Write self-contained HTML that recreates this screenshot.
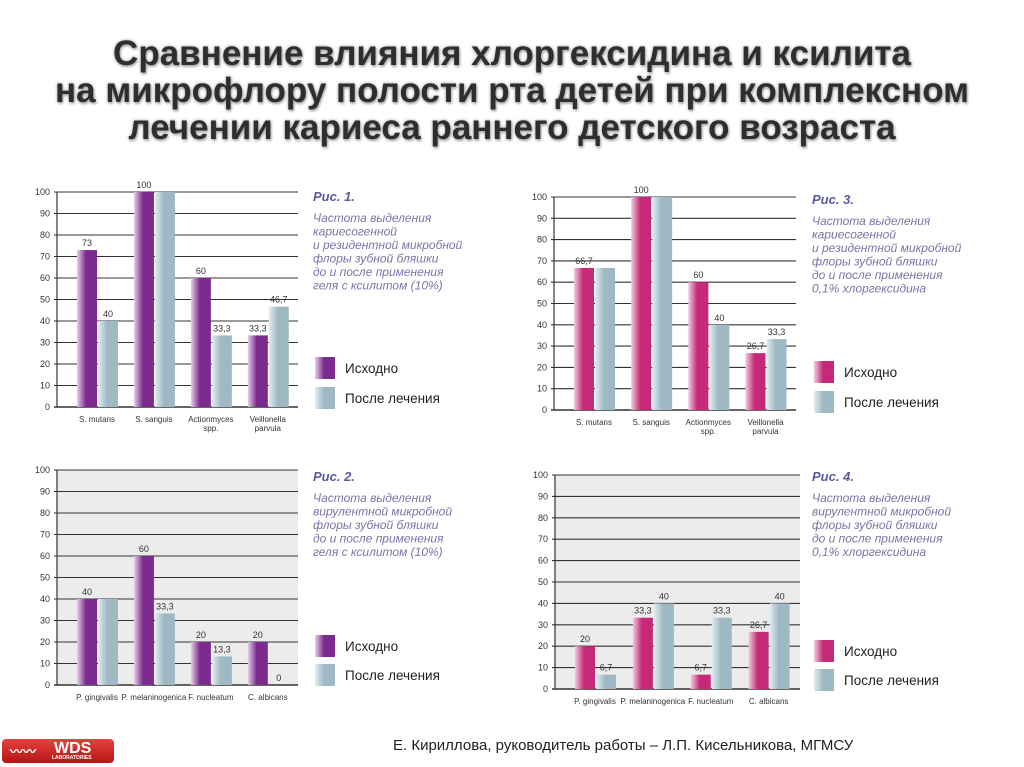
<!DOCTYPE html>
<html><head><meta charset="utf-8">
<style>
body{margin:0;width:1024px;height:767px;background:#fff;overflow:hidden;font-family:"Liberation Sans",sans-serif;position:relative}
.title{position:absolute;left:0;top:35px;width:1024px;text-align:center;font-weight:bold;font-size:35px;line-height:37px;color:#2e2e2e;text-shadow:0 0 3px #9a9a9a,1px 2px 2px #bbb}
svg{position:absolute;left:0;top:0}
.footer{position:absolute;left:393px;top:737px;font-size:15px;color:#222}
.logo{position:absolute;left:2px;top:739px;width:112px;height:24px;border-radius:4px;background:linear-gradient(#e84040,#b51515);color:#fff;font-weight:bold;font-size:14px}
</style></head><body>
<div class="title">Сравнение влияния хлоргексидина и ксилита<br>на микрофлору полости рта детей при комплексном<br>лечении кариеса раннего детского возраста</div>
<svg id="s" width="1024" height="767"></svg>
<div class="logo"><span style="position:absolute;left:8px;top:2px;font-size:13px">〰〰</span><span style="position:absolute;left:52px;top:1px;font-size:16px">WDS</span><span style="position:absolute;left:50px;top:16px;font-size:5px">LABORATORIES</span></div>
<div class="footer">Е. Кириллова, руководитель работы – Л.П. Кисельникова, МГМСУ</div>
<script>
const cats1=["S. mutans","S. sanguis","Actionmyces|spp.","Veillonella|parvula"];
const before1=[73,100,60,33.3];
const after1=[40,100,33.3,46.7];
const labB1=["73","100","60","33,3"];
const labA1=["40","","33,3","46,7"];
const cats2=["P. gingivalis","P. melaninogenica","F. nucleatum","C. albicans"];
const before2=[40,60,20,20];
const after2=[40,33.3,13.3,0];
const labB2=["40","60","20","20"];
const labA2=["","33,3","13,3","0"];
const cats3=["S. mutans","S. sanguis","Actionmyces|spp.","Veillonella|parvula"];
const before3=[66.7,100,60,26.7];
const after3=[66.7,100,40,33.3];
const labB3=["66,7","100","60","26,7"];
const labA3=["","","40","33,3"];
const cats4=["P. gingivalis","P. melaninogenica","F. nucleatum","C. albicans"];
const before4=[20,33.3,6.7,26.7];
const after4=[6.7,40,33.3,40];
const labB4=["20","33,3","6,7","26,7"];
const labA4=["6,7","40","33,3","40"];
const yTicks=[0,10,20,30,40,50,60,70,80,90,100];
const svg=document.getElementById('s');
const NS='http://www.w3.org/2000/svg';
function mk(t,a,p){const e=document.createElementNS(NS,t);for(const k in a)e.setAttribute(k,a[k]);(p||svg).appendChild(e);return e;}
const defs=mk('defs',{});
function grad(id,c1,c2){const g=mk('linearGradient',{id:id,x1:0,x2:1,y1:0,y2:0},defs);mk('stop',{offset:0,'stop-color':c1},g);mk('stop',{offset:0.45,'stop-color':c2},g);mk('stop',{offset:1,'stop-color':c2},g);}
grad('gv','#e6d0ea','#7b2a8e');grad('gm','#f3c9dc','#c42a78');grad('gb','#e3edf0','#9fb9c4');
function chart(cfg){
 const {ax,y0,y100,right,cats,b,a,lb,la,bg,fill,title,desc,lx,ly,id}=cfg;
 const sy=v=>y0-(y0-y100)*v/100;
 const g=mk('g',{});
 mk('rect',{x:ax,y:y100,width:right-ax,height:y0-y100,fill:bg},g);
 yTicks.forEach(t=>{
  const l=mk('line',{x1:ax-3,x2:right,y1:sy(t),y2:sy(t),stroke:'#333','stroke-width':t==0?1.6:1.1},g);
  
  const tx=mk('text',{x:ax-7,y:sy(t)+3,'font-size':9,'text-anchor':'end',fill:'#333'},g);tx.textContent=t;
  
 });
 mk('line',{x1:ax,x2:ax,y1:y100,y2:y0,stroke:'#333','stroke-width':1.2},g);
 const step=(right-ax)/4, bw=20;
 cats.forEach((c,i)=>{
  const x=ax+20+i*step*0.945;
  const r1=mk('rect',{x:x,y:sy(b[i]),width:bw,height:y0-sy(b[i]),fill:fill},g);
  
  const r2=mk('rect',{x:x+bw+1,y:sy(a[i]),width:bw,height:y0-sy(a[i]),fill:'url(#gb)'},g);
  
  if(lb[i]){const t=mk('text',{x:x+bw/2,y:sy(b[i])-4,'font-size':9,'text-anchor':'middle',fill:'#333'},g);t.textContent=lb[i];}
  if(la[i]){const t=mk('text',{x:x+bw*1.5+1,y:sy(a[i])-4,'font-size':9,'text-anchor':'middle',fill:'#333'},g);t.textContent=la[i];}
  c.split('|').forEach((s,k)=>{const t=mk('text',{x:x+bw,y:y0+15+k*9,'font-size':8,'text-anchor':'middle',fill:'#333'},g);t.textContent=s;
   });
 });
 const tt=mk('text',{x:lx,y:ly,'font-size':13,'font-weight':'bold','font-style':'italic',fill:'#5a5aa0'},g);tt.textContent=title;
 
 desc.forEach((d,k)=>{const t=mk('text',{x:lx,y:ly+21+k*13.5,'font-size':12,'font-style':'italic',fill:'#7a74a8'},g);t.textContent=d;});
 const lg=cfg.leg;
 mk('rect',{x:lx+2,y:lg[0],width:20,height:22,fill:fill},g);
 mk('rect',{x:lx+2,y:lg[1],width:20,height:22,fill:'url(#gb)'},g);
 const e1=mk('text',{x:lx+32,y:lg[0]+16,'font-size':13.5,fill:'#222'},g);e1.textContent='Исходно';
 
 const e2=mk('text',{x:lx+32,y:lg[1]+16,'font-size':13.5,fill:'#222'},g);e2.textContent='После лечения';
 
}
chart({id:'chart-fig1',ax:57,y0:407,y100:192,right:298,cats:cats1,b:before1,a:after1,lb:labB1,la:labA1,bg:'#fff',fill:'url(#gv)',title:'Рис. 1.',
 desc:['Частота выделения','кариесогенной','и резидентной микробной','флоры зубной бляшки','до и после применения','геля с ксилитом (10%)'],lx:313,ly:201,leg:[357,387]});
chart({id:'chart-fig3',ax:554,y0:410,y100:197,right:796,cats:cats3,b:before3,a:after3,lb:labB3,la:labA3,bg:'#fff',fill:'url(#gm)',title:'Рис. 3.',
 desc:['Частота выделения','кариесогенной','и резидентной микробной','флоры зубной бляшки','до и после применения','0,1% хлоргексидина'],lx:812,ly:204,leg:[361,391]});
chart({id:'chart-fig2',ax:57,y0:685,y100:470,right:298,cats:cats2,b:before2,a:after2,lb:labB2,la:labA2,bg:'#ececec',fill:'url(#gv)',title:'Рис. 2.',
 desc:['Частота выделения','вирулентной микробной','флоры зубной бляшки','до и после применения','геля с ксилитом (10%)'],lx:313,ly:481,leg:[635,664]});
chart({id:'chart-fig4',ax:555,y0:689,y100:475,right:800,cats:cats4,b:before4,a:after4,lb:labB4,la:labA4,bg:'#ececec',fill:'url(#gm)',title:'Рис. 4.',
 desc:['Частота выделения','вирулентной микробной','флоры зубной бляшки','до и после применения','0,1% хлоргексидина'],lx:812,ly:481,leg:[640,669]});
</script>
</body></html>
